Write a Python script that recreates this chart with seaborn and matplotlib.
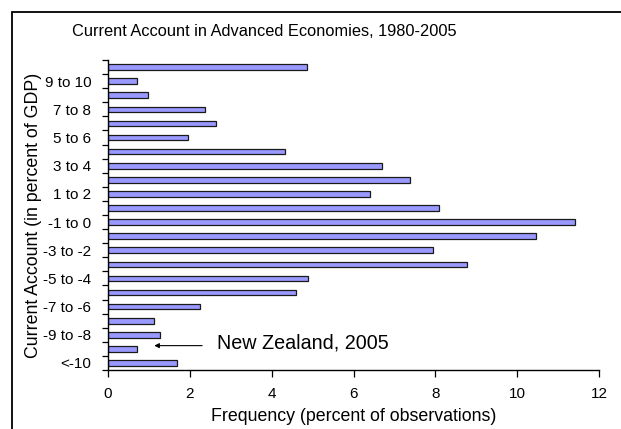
import matplotlib
matplotlib.use("Agg")
import matplotlib.pyplot as plt
import seaborn as sns
import pandas as pd
from matplotlib.patches import Rectangle

categories = [">10", "9 to 10", "8 to 9", "7 to 8", "6 to 7", "5 to 6", "4 to 5",
              "3 to 4", "2 to 3", "1 to 2", "0 to 1", "-1 to 0", "-2 to -1",
              "-3 to -2", "-4 to -3", "-5 to -4", "-6 to -5", "-7 to -6",
              "-8 to -7", "-9 to -8", "-10 to -9", "<-10"]
frequency = [4.87, 0.70, 0.98, 2.37, 2.65, 1.96, 4.33, 6.69, 7.39, 6.41, 8.08,
             11.42, 10.45, 7.94, 8.78, 4.89, 4.60, 2.24, 1.12, 1.26, 0.70, 1.68]
shown_labels = ["9 to 10", "7 to 8", "5 to 6", "3 to 4", "1 to 2", "-1 to 0",
                "-3 to -2", "-5 to -4", "-7 to -6", "-9 to -8", "<-10"]
x_ticks = [0, 2, 4, 6, 8, 10, 12]

df = pd.DataFrame({"cat": categories, "freq": frequency})

sns.set_style("white")
plt.rcParams["font.family"] = ["Liberation Sans", "DejaVu Sans"]
plt.rcParams["text.color"] = "black"
plt.rcParams["axes.labelcolor"] = "black"
plt.rcParams["xtick.color"] = "black"
plt.rcParams["ytick.color"] = "black"

fig = plt.figure(figsize=(6.21, 4.29), dpi=100)
ax = fig.add_axes([108 / 621, 1 - 370 / 429, (599 - 108) / 621, (370 - 60) / 429])

sns.barplot(data=df, x="freq", y="cat", order=categories, orient="h",
            color="#9999FF", saturation=1, edgecolor="#1a1a1a", linewidth=0.9,
            width=0.4, ax=ax)

ax.set_xlim(0, 12)
ax.set_ylim(21.47, -0.45)
ax.set_xticks(x_ticks)
ax.set_xticklabels([str(t) for t in x_ticks], fontsize=11)

pos = [categories.index(c) for c in shown_labels]
ax.set_yticks(pos)
ax.set_yticklabels(shown_labels, fontsize=11)
ax.set_yticks([i - 0.5 for i in range(len(categories) + 1)], minor=True)
ax.tick_params(axis="y", which="major", length=0, pad=12)
ax.tick_params(axis="y", which="minor", length=4, width=0.9, color="black", direction="out", left=True)
ax.tick_params(axis="x", which="major", length=5, width=0.9, color="black", direction="out", bottom=True, pad=7)

for s in ["top", "right"]:
    ax.spines[s].set_visible(False)
for s in ["left", "bottom"]:
    ax.spines[s].set_color("black")
    ax.spines[s].set_linewidth(1.0)

ax.set_xlabel("Frequency (percent of observations)", fontsize=12.8, labelpad=5, color="black")
ax.set_ylabel("Current Account (in percent of GDP)", fontsize=12.8, labelpad=1, color="black")

fig.text(264 / 621, 1 - 31 / 429, "Current Account in Advanced Economies, 1980-2005",
         ha="center", va="center", fontsize=11.8, color="black")

ax.annotate("", xy=(1.13, 19.77), xytext=(2.3, 19.77),
            arrowprops=dict(arrowstyle="-|>", color="black", lw=0.8,
                            mutation_scale=7, shrinkA=0, shrinkB=0))
ax.text(2.66, 19.6, "New Zealand, 2005", fontsize=14.2, va="center", ha="left", color="black")

fig.patches.append(Rectangle((11.5 / 621, -0.1), 1.2, (429 - 12.5) / 429 + 0.1,
                             transform=fig.transFigure, fill=False,
                             edgecolor="black", linewidth=1.3))

fig.savefig("out.png", dpi=100)
